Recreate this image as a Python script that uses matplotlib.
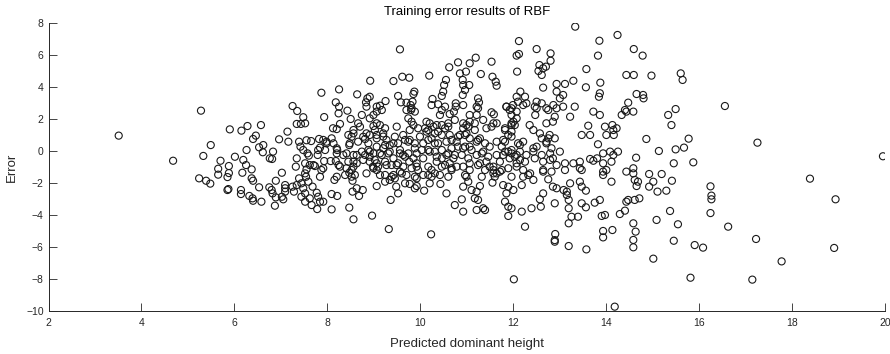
import matplotlib
matplotlib.use("Agg")
import matplotlib.pyplot as plt

# predicted dominant height (x) and training error (y)
pred_height = [
    3.51, 4.68, 5.28, 5.90, 5.49, 5.33, 6.01, 5.70, 5.88, 5.65, 5.88, 5.65, 5.85, 5.24, 5.39, 5.48, 5.87, 5.85,
    8.92, 8.25, 7.87, 8.64, 8.86, 8.83, 9.06, 7.25, 8.18, 8.25, 7.35, 8.43, 8.24, 7.48, 7.93, 8.50, 8.74, 8.91,
    6.57, 6.28, 6.15, 7.34, 7.43, 8.27, 8.12, 8.20, 7.14, 8.66, 8.70, 8.99, 9.06, 6.46, 6.40, 6.96, 7.16, 7.39,
    7.55, 7.65, 7.82, 7.91, 8.09, 8.45, 8.52, 8.56, 8.77, 8.81, 8.91, 9.06, 6.62, 6.53, 7.42, 7.84, 7.98, 8.20,
    8.21, 8.47, 6.26, 6.61, 6.83, 6.76, 6.81, 7.34, 7.57, 7.60, 7.79, 7.93, 8.07, 8.18, 8.41, 8.63, 8.74, 8.81,
    8.88, 8.99, 8.91, 6.19, 6.25, 7.52, 7.62, 8.45, 8.56, 8.63, 8.91, 9.06,
    6.37, 6.17, 6.37, 6.40, 6.53, 6.14, 6.14, 6.32, 6.39, 6.40, 6.58, 6.75, 6.80, 6.82, 6.89, 7.02, 6.89, 6.87,
    7.02, 7.05, 7.09, 7.09, 7.09, 7.25, 7.28, 7.34, 7.32, 7.39, 7.44, 7.48, 7.52, 7.44, 7.52, 7.62, 7.66, 7.52,
    7.55, 7.54, 7.59, 7.68, 7.77, 7.80, 7.84, 7.78, 7.91, 7.73, 7.87, 8.09, 8.09, 8.15, 8.21, 8.24, 8.38, 8.47,
    8.52, 8.52, 8.54, 8.56, 8.54, 8.63, 8.68, 8.76, 8.47, 8.56, 8.96, 9.06, 8.99, 9.06,
    9.56, 12.12, 12.07, 12.08, 9.42, 9.61, 9.76, 10.19, 10.62, 10.81, 10.98, 11.06, 11.19, 11.53, 11.30, 11.55,
    11.62, 11.64, 10.85, 10.91, 10.92, 10.96, 10.91, 11.05, 10.55, 10.51, 10.49, 10.46, 9.87, 9.85, 9.83, 9.79,
    9.80, 9.52, 9.58, 9.70, 9.25, 9.13, 9.06, 9.17, 8.91, 10.26, 10.24, 10.38, 10.46, 10.42, 10.76, 10.76, 10.72,
    10.63, 10.92, 11.24, 11.26, 11.24, 11.21, 11.53, 11.58, 11.64, 11.57, 11.85, 11.92, 11.96, 12.00, 12.07,
    12.10, 12.07, 11.82, 11.89, 11.78, 11.75, 11.89, 11.64, 11.78,
    8.99, 9.13, 9.24, 9.02, 9.20, 9.27, 9.34, 9.06, 9.20, 9.17, 9.31, 9.42, 9.02, 9.24, 9.09, 9.38, 9.52, 9.63,
    9.67, 9.52, 9.56, 9.45, 9.63, 9.77, 9.85, 9.88, 9.92, 9.76, 9.92, 9.81, 9.63, 10.06, 10.17, 10.06,
    10.13, 10.20, 10.10, 10.17, 10.35, 10.46, 10.53, 10.60, 10.31, 10.46, 10.63, 10.24, 10.38, 10.56, 10.67,
    10.78, 10.85, 10.92, 10.99, 11.06, 10.96, 11.06, 10.81, 10.92, 11.06, 11.21, 11.28, 11.35, 11.17, 11.42,
    10.31, 10.46, 10.56, 10.71, 10.89, 11.03, 11.21, 11.35, 11.49, 11.64, 10.35, 10.63, 10.78, 11.06, 11.24,
    11.42, 11.57, 11.71, 11.92, 12.03, 12.07,
    9.32, 10.23, 12.01, 9.36, 9.52, 9.48, 9.24, 9.34, 9.45, 9.24, 9.38, 9.56, 9.60, 9.70, 9.67, 9.77, 9.88, 9.92,
    10.08, 10.20, 10.06, 10.17, 10.31, 10.42, 10.43, 10.56, 10.74, 10.89, 10.92, 10.92, 11.03, 10.99, 11.10,
    11.21, 11.17, 11.24, 11.28, 11.21, 11.35, 11.39, 11.06, 11.28, 11.49, 11.57, 11.64, 11.55, 11.71, 11.78,
    11.89, 11.85, 11.82, 11.89, 11.96, 11.89, 12.00, 11.96, 12.18, 10.67, 10.46, 9.92, 9.92, 10.24,
    13.33, 14.24, 13.85, 14.59, 14.78, 12.50, 13.82, 12.80, 12.80, 12.12, 12.56, 12.54, 12.61, 12.64, 12.70,
    13.57, 14.43, 14.59, 14.97, 13.29, 13.11, 12.93, 13.56, 13.87, 13.86, 13.84, 12.64, 12.93, 13.07, 13.00,
    12.15, 12.25, 14.65, 14.79, 14.80, 14.47, 14.40, 14.43, 14.33, 14.58, 13.32, 13.22, 13.07, 12.93, 12.89,
    12.85, 12.71, 12.50, 12.61, 12.50, 12.47, 12.75, 12.07, 12.03, 11.96, 12.21, 12.28,
    13.72, 13.86, 13.61, 13.47, 13.65, 13.97, 14.13, 14.15, 14.16, 14.00, 14.86, 15.13, 14.64, 13.82, 13.93,
    14.08, 14.25, 14.11, 13.80, 13.65, 13.72, 13.43, 13.29, 13.11, 12.93, 12.64, 12.85, 13.00, 12.82, 12.71,
    12.89, 12.78, 12.57, 12.61, 12.50, 12.43, 12.28, 12.14, 12.21, 12.14, 12.35, 12.43,
    14.18, 15.01, 12.25, 12.90, 12.89, 12.89, 13.19, 13.57, 13.93, 13.93, 14.13, 14.58, 14.63, 14.58, 14.58,
    15.08, 13.19, 13.25, 13.39, 13.90, 13.97, 14.29, 14.40, 14.43, 14.47, 14.61, 14.71, 14.58, 14.58, 14.61,
    14.68, 14.65, 14.92, 14.92, 15.01, 15.10, 14.11, 13.93, 13.93, 13.75, 13.86, 13.43, 13.47, 13.56, 13.47,
    13.56, 13.22, 13.15, 13.19, 13.19, 13.08, 13.15, 12.93, 12.89, 12.85, 12.75, 12.64, 12.57, 12.59, 12.64,
    12.39, 12.43, 12.32, 12.21, 12.18, 13.43, 14.43,
    15.60, 15.64, 16.55, 15.49, 15.33, 15.40, 15.77, 15.67, 15.49, 17.25, 15.45, 15.87, 19.95, 15.19, 15.41,
    15.29, 16.24, 16.26, 16.26, 16.24, 18.38, 18.93, 15.37, 15.54, 16.62, 15.45, 15.90, 16.08, 17.22, 18.90,
    17.77, 15.81, 17.14,
]
error = [
    0.98, -0.59, 2.54, 1.37, 0.39, -0.29, -0.34, -0.59, -0.92, -1.09, -1.36, -1.46, -1.61, -1.69, -1.84, -2.02, -2.36, -2.42,
    4.41, 3.87, 3.66, 3.56, 3.31, 3.06, 2.79, 2.83, 3.06, 2.79, 2.52, 2.54, 2.37, 2.13, 2.14, 2.02, 2.27, 2.06,
    1.64, 1.58, 1.29, 1.71, 1.71, 1.71, 1.44, 1.39, 1.23, 1.75, 1.54, 1.58, 1.75, 0.98, 0.77, 0.75, 0.60, 0.60,
    0.69, 0.64, 0.77, 0.71, 0.81, 1.02, 0.91, 1.12, 0.91, 0.77, 1.02, 0.81, 0.39, 0.25, 0.29, 0.23, 0.50, 0.19,
    0.08, 0.39, 0.08, -0.06, -0.02, -0.44, -0.48, -0.44, -0.13, -0.27, -0.23, -0.61, -0.61, -0.61, -0.13, -0.23, -0.02, -0.23,
    0.08, -0.13, -0.34, -0.54, -0.86, -0.75, -0.86, -0.65, -0.65, -0.75, -0.65, -0.75,
    -1.13, -1.34, -1.69, -1.84, -2.25, -2.42, -2.67, -2.79, -2.94, -3.09, -3.15, -2.25, -2.42, -2.63, -1.84, -1.34, -2.88, -3.40,
    -2.84, -3.00, -2.11, -2.31, -2.52, -2.21, -2.52, -2.11, -0.96, -1.69, -2.00, -2.31, -2.63, -2.84, -3.15, -2.94, -3.36, -1.38,
    -1.13, -1.59, -1.90, -2.21, -2.59, -2.84, -3.15, -3.61, -3.15, -0.92, -1.17, -2.67, -3.63, -1.79, -2.79, -0.86, -1.48, -1.34,
    -1.17, -1.59, -1.84, -0.96, -2.52, -2.31, -2.79, -2.42, -3.52, -4.25, -4.02, -2.17, -1.06, -1.17,
    6.37, 6.89, 5.98, 4.98, 4.39, 4.66, 4.60, 4.73, 5.25, 5.56, 4.98, 5.50, 5.85, 5.60, 4.83, 4.66,
    4.35, 4.10, 4.87, 4.46, 4.14, 3.83, 3.52, 4.14, 4.46, 4.14, 3.73, 3.46, 3.73, 3.58, 3.10, 2.89,
    2.58, 3.46, 3.06, 3.04, 3.14, 2.85, 2.48, 2.58, 3.41, 3.27, 2.89, 2.94, 2.58, 2.27, 3.00, 2.79, 2.48,
    2.33, 2.89, 3.31, 3.06, 2.69, 2.27, 2.44, 2.31, 1.75, 1.75, 2.79, 2.58, 2.27, 1.85, 2.48,
    3.10, 3.41, 1.33, 1.02, 0.71, 0.29, -0.02, 0.60, -0.23,
    2.27, 1.64, 1.44, 1.33, 1.12, 0.71, 0.39, 0.29, 0.19, -0.23, -0.13, -0.44, -0.54, -0.65, -0.96, -0.86, -0.75, -0.23,
    0.71, 0.50, 0.08, 0.91, 1.02, 1.33, 1.64, 0.19, -0.13, -0.65, -0.75, -1.06, -0.96, -0.44, 0.08, 0.50,
    1.85, 1.75, 1.44, 1.33, 1.64, 1.64, 1.44, 1.75, 1.12, 1.02, 1.02, 0.81, 0.50, 0.60, 0.19,
    0.60, 1.02, 1.44, 1.64, 1.85, 1.02, 0.81, 0.29, 0.19, 0.29, 0.60, 0.81, 1.96, 1.33, 1.44,
    -0.02, 0.08, -0.23, -0.44, -0.23, -0.44, -0.23, -0.02, 0.29, -0.23, -0.65, -0.75, -0.96, -0.75, -0.86,
    -0.65, -0.96, -0.65, -0.44, -0.34, -0.75,
    -4.86, -5.19, -8.00, -3.04, -2.63, -2.21, -1.90, -1.79, -1.69, -1.48, -1.59, -1.27, -1.38, -1.48, -2.00, -2.04, -2.31, -2.17,
    -2.46, -2.00, -1.48, -1.48, -1.38, -1.48, -2.04, -2.63, -3.36, -3.00, -3.77, -2.21, -1.90, -1.59, -2.42,
    -2.52, -2.94, -3.04, -2.17, -3.67, -3.56, -3.67, -1.17, -0.75, -0.96, -1.17, -1.38, -1.96, -1.27, -2.11,
    -2.21, -2.63, -3.15, -3.46, -3.56, -4.04, -2.42, -1.59, -3.77, -1.06, -0.96, -1.69, -0.96, -1.17,
    7.79, 7.27, 6.91, 6.39, 5.98, 6.39, 5.98, 6.12, 5.66, 6.08, 5.39, 5.02, 4.77, 5.19, 5.29,
    5.14, 4.77, 4.77, 4.73, 4.41, 4.21, 4.21, 4.00, 4.29, 3.63, 3.41, 3.98, 3.73, 3.52, 3.31,
    3.73, 3.41, 3.58, 3.52, 3.31, 3.04, 2.58, 2.48, 2.27, 2.48, 2.79, 2.16, 2.79, 2.69, 2.16,
    1.85, 1.75, 3.10, 3.00, 2.69, 2.27, 2.58, 2.06, 1.64, 1.23, 2.89, 3.00,
    2.48, 2.27, 1.60, 1.02, 1.02, 1.54, 1.64, 1.33, 1.02, 1.02, 0.77, 0.02, -0.40, 0.44, -0.13,
    -0.02, -0.02, -0.65, -0.44, -0.48, -0.59, -0.65, -0.75, -0.75, -0.86, -0.65, -0.44, -0.02, 0.19, 0.60,
    0.81, 1.02, 1.12, 0.81, 0.29, -0.02, -0.23, -0.02, 0.60, 0.39, 1.64, 1.33,
    -9.71, -6.71, -4.71, -5.17, -5.55, -5.65, -5.92, -6.13, -4.98, -5.38, -4.92, -4.50, -5.02, -5.54, -6.00,
    -4.29, -4.50, -4.09, -4.09, -4.04, -3.98, -3.92, -3.71, -3.15, -3.04, -3.04, -2.94, -1.06, -1.38, -1.79,
    -1.90, -2.17, -1.42, -2.21, -1.90, -2.52, -1.90, -1.27, -0.75, -3.21, -3.04, -1.90, -2.21, -2.46, -3.25,
    -3.50, -2.00, -2.73, -3.04, -3.56, -2.42, -2.52, -2.31, -3.25, -2.21, -1.75, -2.63, -3.00, -3.46, -1.17,
    -3.56, -1.79, -1.48, -1.59, -2.11, -1.06, -1.27,
    4.87, 4.46, 2.83, 2.64, 2.27, 1.64, 0.79, 0.23, 0.12, 0.54, -0.75, -0.69, -0.31, -1.42, -1.84,
    -2.46, -2.19, -2.77, -3.00, -3.86, -1.71, -3.00, -3.73, -4.56, -4.71, -5.59, -5.86, -6.02, -5.48, -6.04,
    -6.88, -7.90, -8.02,
]

# extra points from the dense centre of the cloud
dense_height = [
    7.52, 8.84, 9.70, 9.74, 9.49, 8.56, 8.84, 9.06, 9.20, 7.98, 8.13, 8.20, 8.48, 8.66, 8.88, 9.24, 9.42, 9.74,
    7.48, 7.80, 7.95, 8.34, 8.56, 8.91, 9.13, 9.34, 9.56, 9.67, 7.70, 7.91, 8.27, 8.41, 8.77, 8.98, 9.27, 9.49,
    7.84, 8.20, 8.59, 8.84, 9.13, 9.42,
    9.81, 9.88, 10.53, 11.21, 11.06, 11.85, 11.96, 9.81, 9.95, 10.13, 10.28, 10.38, 10.60, 10.74, 10.92, 11.03,
    11.17, 11.53, 11.82, 11.96, 9.77, 9.88, 9.99, 10.17, 10.31, 10.67, 10.81, 10.99, 11.24, 11.39, 11.82, 11.96,
    9.74, 9.85, 10.03, 10.20, 10.35, 10.46, 10.60, 10.74, 10.96, 11.10, 11.32, 11.46, 11.82, 11.96, 9.95, 10.17,
    10.53, 10.67, 10.92, 11.39, 11.57, 11.75, 11.89, 9.88, 10.24, 10.60, 10.96, 11.32, 11.60,
    11.99, 11.96, 12.46, 12.71, 12.86, 12.75, 12.71, 12.10, 11.96, 12.07, 12.14, 12.25, 12.43, 12.46, 12.61,
    12.79, 12.79, 13.47, 12.64, 12.82, 13.11, 14.22, 14.15, 14.00, 13.93, 12.36, 12.21, 12.07,
]
dense_error = [
    1.75, 2.79, 2.58, 2.06, 1.54, 1.33, 1.12, 1.02, 0.92, 0.60, 0.50, -0.13, 0.50, 0.60, 0.50, 0.39, 0.50, 0.60,
    0.08, 0.08, 0.08, -0.23, -0.23, -0.02, -0.13, -0.02, -0.13, -0.34, -0.86, -1.06, -0.96, -1.06, -0.54, -0.96, -0.86, -0.86,
    -1.59, -1.59, -1.48, -1.38, -1.48, -1.48,
    2.69, 2.48, 2.79, 2.79, 2.27, 2.79, 2.69, 1.85, 1.44, 1.23, 1.54, 1.23, 1.54, 1.96, 1.75, 1.54,
    1.75, 1.54, 1.44, 1.64, 0.71, 0.50, 0.92, 0.71, 0.50, 0.71, 0.92, 1.12, 0.71, 0.50, 0.60, 0.92,
    -0.13, -0.44, 0.08, -0.02, -0.34, -0.44, -0.13, -0.23, 0.29, 0.08, -0.13, -0.34, -0.02, 0.08, -1.17, -0.96,
    -0.86, -1.17, -0.96, -1.17, -1.38, -1.17, -1.06, -1.59, -1.59, -1.59, -1.48, -1.59, -1.59,
    2.89, 1.75, 2.79, 2.69, 2.89, 0.81, 0.50, 0.50, -0.13, -0.23, -0.54, -0.65, 0.19, -0.44, -0.23,
    -0.13, -0.54, -1.17, -1.27, -1.27, -1.17, 1.44, -0.23, -1.17, -1.48, -1.38, -1.17, -0.96,
]

x_ticks = [2, 4, 6, 8, 10, 12, 14, 16, 18, 20]
y_ticks = [-10, -8, -6, -4, -2, 0, 2, 4, 6, 8]

plt.rcParams['font.family'] = ['Liberation Sans', 'DejaVu Sans']
grey = '#262626'

fig = plt.figure(figsize=(8.9, 3.54), dpi=100)
ax = fig.add_axes([0.0545, 0.1206, 0.9402, 0.8136])

ax.scatter(pred_height + dense_height, error + dense_error, s=26,
           facecolors='none', edgecolors='#1a1a1a', linewidths=0.8)

ax.set_xlim(2, 20)
ax.set_ylim(-10, 8)
ax.set_xticks(x_ticks)
ax.set_yticks(y_ticks)
ax.tick_params(direction='in', length=6, width=0.6, colors=grey, labelsize=7.5)
ax.tick_params(axis='x', pad=5)
for side in ['top', 'right']:
    ax.spines[side].set_visible(False)
for side in ['left', 'bottom']:
    ax.spines[side].set_color(grey)
    ax.spines[side].set_linewidth(0.7)

ax.set_xlabel('Predicted dominant height', fontsize=9.5, color=grey, labelpad=7)
ax.set_ylabel('Error', fontsize=9.5, color=grey, labelpad=6)
ax.set_title('Training error results of RBF', fontsize=9.5, color='black', pad=6)

fig.savefig('out.png', dpi=100)
